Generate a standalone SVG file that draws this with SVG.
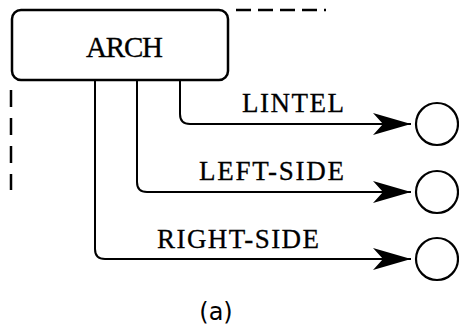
<svg xmlns="http://www.w3.org/2000/svg" width="459" height="333" viewBox="0 0 459 333">
<style>
.lbl{font-family:"Liberation Serif","Times New Roman",serif;font-size:27px;fill:#000;stroke:#000;stroke-width:0.3}
.conn{fill:none;stroke:#000;stroke-width:2}
.dash{fill:none;stroke:#000;stroke-width:2.5}
.circ{fill:#fff;stroke:#000;stroke-width:2.2}
</style>
<defs>
<marker id="arr" markerUnits="userSpaceOnUse" markerWidth="40" markerHeight="24" viewBox="-38 -12 40 24" refX="0" refY="0" orient="auto">
<path d="M0,0 L-38,-11 L-28,0 L-38,11 Z" fill="#000"/>
</marker>
</defs>
<rect width="459" height="333" fill="#fff"/>
<g id="frame">
<path class="dash" d="M236,10 H326" stroke-dasharray="15,7"/>
<path class="dash" d="M11,90 V190" stroke-dasharray="17,11"/>
</g>
<g id="connectors">
<path class="conn" d="M180,80 V114 Q180,124 190,124 H411" marker-end="url(#arr)"/>
<path class="conn" d="M137,80 V182 Q137,192 147,192 H411" marker-end="url(#arr)"/>
<path class="conn" d="M95,80 V249 Q95,259 105,259 H411" marker-end="url(#arr)"/>
<text class="lbl" x="242" y="112" textLength="102" lengthAdjust="spacing">LINTEL</text>
<text class="lbl" x="199" y="180" textLength="145" lengthAdjust="spacing">LEFT-SIDE</text>
<text class="lbl" x="157" y="248" textLength="162" lengthAdjust="spacing">RIGHT-SIDE</text>
</g>
<g id="arch">
<rect x="12" y="10" width="216" height="70" rx="9" fill="#fff" stroke="#000" stroke-width="2.5"/>
<text class="lbl" x="86" y="57" textLength="77" lengthAdjust="spacing" style="font-size:29px">ARCH</text>
</g>
<g id="lintel"><circle class="circ" cx="437" cy="124" r="21"/></g>
<g id="leftside"><circle class="circ" cx="437" cy="192" r="21"/></g>
<g id="rightside"><circle class="circ" cx="437" cy="259" r="21"/></g>
<text x="216" y="320" font-family="DejaVu Sans, sans-serif" font-size="24" text-anchor="middle">(a)</text>
</svg>
